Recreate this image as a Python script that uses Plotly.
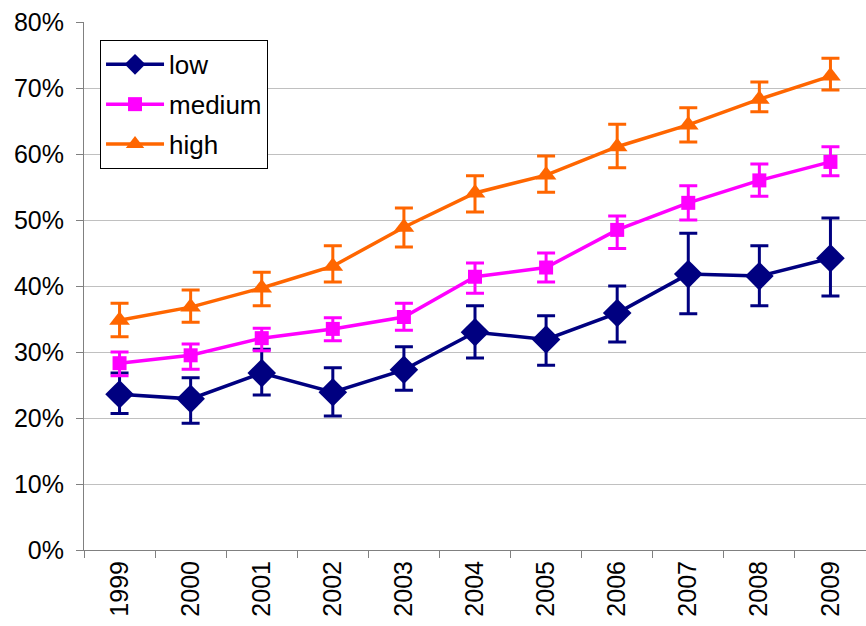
import plotly.graph_objects as go

years = ["1999", "2000", "2001", "2002", "2003", "2004", "2005", "2006", "2007", "2008", "2009"]

low = [23.6, 22.9, 26.8, 23.9, 27.3, 33.0, 31.9, 35.9, 41.8, 41.5, 44.2]
low_hi = [26.8, 26.1, 30.4, 27.6, 30.8, 37.0, 35.5, 40.0, 48.0, 46.1, 50.3]
low_lo = [20.7, 19.2, 23.5, 20.3, 24.2, 29.1, 28.0, 31.5, 35.8, 37.0, 38.5]

medium = [28.3, 29.5, 32.1, 33.5, 35.3, 41.4, 42.8, 48.5, 52.6, 56.0, 58.8]
medium_hi = [30.0, 31.2, 33.6, 35.2, 37.4, 43.5, 45.0, 50.6, 55.2, 58.5, 61.1]
medium_lo = [26.4, 27.4, 30.2, 31.7, 33.3, 38.9, 40.6, 45.7, 50.0, 53.6, 56.7]

high = [34.8, 36.8, 39.7, 43.0, 48.9, 54.1, 56.8, 61.1, 64.4, 68.3, 71.8]
high_hi = [37.4, 39.4, 42.1, 46.1, 51.8, 56.7, 59.7, 64.5, 67.0, 70.9, 74.5]
high_lo = [32.3, 34.5, 37.0, 40.6, 45.9, 51.2, 54.2, 57.9, 61.8, 66.4, 69.7]

series = [
    ("low", low, low_hi, low_lo, "#000080", "diamond", 22),
    ("medium", medium, medium_hi, medium_lo, "#FF00FF", "square", 14),
    ("high", high, high_hi, high_lo, "#FF6600", "triangle-up", 18),
]

fig = go.Figure()
for name, vals, hi, lo, color, sym, size in series:
    fig.add_trace(go.Scatter(
        x=years, y=vals, name=name, mode="lines+markers",
        legendgroup=name,
        line=dict(color=color, width=3.5),
        marker=dict(symbol=sym, size=size, color=color),
        error_y=dict(type="data", symmetric=False,
                     array=[h - v for h, v in zip(hi, vals)],
                     arrayminus=[v - l for v, l in zip(vals, lo)],
                     color=color, thickness=3, width=9),
    ))

font = "Liberation Sans, Arial, sans-serif"
fig.update_layout(
    width=866, height=626,
    margin=dict(l=84, r=0, t=22, b=76, autoexpand=False),
    paper_bgcolor="white", plot_bgcolor="white",
    font=dict(family=font, size=25, color="black"),
    showlegend=True,
    legend=dict(x=0.0205, y=0.966, xanchor="left", yanchor="top",
                bordercolor="black", borderwidth=1, bgcolor="white",
                itemwidth=58, tracegroupgap=3, font=dict(size=26)),
    xaxis=dict(type="category", range=[-0.5, len(years) - 0.5],
               tickson="boundaries", ticks="outside",
               ticklen=7, tickcolor="#808080", tickangle=-90,
               showline=True, linecolor="#808080", linewidth=1,
               showgrid=False, zeroline=False, automargin=False),
    yaxis=dict(range=[0, 80], dtick=10, ticksuffix="%", ticks="outside",
               ticklen=7, tickcolor="#808080", ticklabelstandoff=7,
               showline=True, linecolor="#808080", linewidth=1,
               showgrid=True, gridcolor="#C0C0C0", gridwidth=1,
               zeroline=False, automargin=False),
)

fig.write_html(
    "out.html",
    config={"displayModeBar": False},
    post_script="document.body.style.margin='0';document.body.style.overflow='hidden';",
)
